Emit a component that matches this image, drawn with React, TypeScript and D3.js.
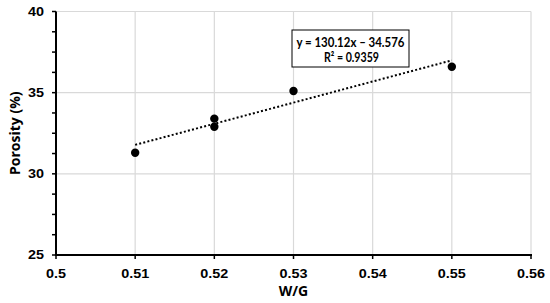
import React from "react";
import * as d3 from "d3";

const wg = [0.51, 0.52, 0.52, 0.53, 0.55];
const porosity = [31.3, 33.4, 32.9, 35.1, 36.6];
const xTicks = [0.5, 0.51, 0.52, 0.53, 0.54, 0.55, 0.56];
const yTicks = [25, 30, 35, 40];
const slope = 130.12;
const intercept = -34.576;
const eqLabel = "y = 130.12x \u2013 34.576";
const r2Label = "R\u00B2 = 0.9359";

export default function App() {
  const W = 550, H = 303;
  const x = d3.scaleLinear().domain([0.5, 0.56]).range([56, 531]);
  const y = d3.scaleLinear().domain([25, 40]).range([255, 11.5]);
  const minor = d3.range(25, 40.001, 1.25);
  const xFit = d3.extent(wg) as [number, number];
  const line = d3.line<number>().x((d) => x(d)).y((d) => y(slope * d + intercept));
  const font = "Arial, 'Liberation Sans', sans-serif";
  return (
    <svg width={W} height={H} style={{ position: "absolute", left: 0, top: 0, background: "#fff" }}>
      <rect width={W} height={H} fill="#fff" />
      {xTicks.slice(1).map((t) => (
        <line key={"gx" + t} x1={x(t)} x2={x(t)} y1={y(40)} y2={y(25)} stroke="#d9d9d9" strokeWidth={1.2} />
      ))}
      {yTicks.slice(1).map((t) => (
        <line key={"gy" + t} x1={x(0.5)} x2={x(0.56)} y1={y(t)} y2={y(t)} stroke="#d9d9d9" strokeWidth={1.2} />
      ))}
      <path d={line(xFit) || ""} fill="none" stroke="#000" strokeWidth={2} strokeDasharray="2,2.2" />
      {wg.map((d, i) => (
        <circle key={i} cx={x(d)} cy={y(porosity[i])} r={4.2} fill="#000" />
      ))}
      <line x1={x(0.5)} x2={x(0.5)} y1={y(40)} y2={y(25) + 1} stroke="#000" strokeWidth={2} />
      <line x1={x(0.5) - 1} x2={x(0.56) + 1} y1={y(25)} y2={y(25)} stroke="#000" strokeWidth={2} />
      {minor.map((t) => (
        <line key={"my" + t} x1={x(0.5) - 4} x2={x(0.5)} y1={y(t)} y2={y(t)} stroke="#000" strokeWidth={1.5} />
      ))}
      {xTicks.map((t) => (
        <line key={"tx" + t} x1={x(t)} x2={x(t)} y1={y(25)} y2={y(25) + 4} stroke="#000" strokeWidth={1.5} />
      ))}
      {yTicks.map((t) => (
        <text key={"ly" + t} transform={`translate(${x(0.5) - 12},${y(t)}) scale(1.2,1)`} dy="0.35em" textAnchor="end" fontFamily={font} fontWeight="bold" fontSize={12} fill="#000">
          {t}
        </text>
      ))}
      {xTicks.map((t) => (
        <text key={"lx" + t} transform={`translate(${x(t)},273.5) scale(1.2,1)`} dy="0.35em" textAnchor="middle" fontFamily={font} fontWeight="bold" fontSize={12} fill="#000">
          {t}
        </text>
      ))}
      <text x={x(0.53)} y={291} dy="0.35em" textAnchor="middle" fontFamily="'Open Sans', sans-serif" fontWeight="bold" fontSize={14} fill="#000">W/G</text>
      <text transform={`translate(15,${y(32.5)}) rotate(-90)`} dy="0.35em" textAnchor="middle" fontFamily="'Open Sans', sans-serif" fontWeight="bold" fontSize={14} fill="#000">Porosity (%)</text>
      <rect x={292} y={30} width={117} height={37} fill="#fff" stroke="#000" strokeWidth={1} />
      <text x={296.5} y={42.5} dy="0.35em" fontFamily="Lato, sans-serif" fontWeight="bold" fontSize={13} textLength={108} lengthAdjust="spacingAndGlyphs" fill="#000">{eqLabel}</text>
      <text x={324} y={57} dy="0.35em" fontFamily="Lato, sans-serif" fontWeight="bold" fontSize={13} textLength={55} lengthAdjust="spacingAndGlyphs" fill="#000">{r2Label}</text>
    </svg>
  );
}
